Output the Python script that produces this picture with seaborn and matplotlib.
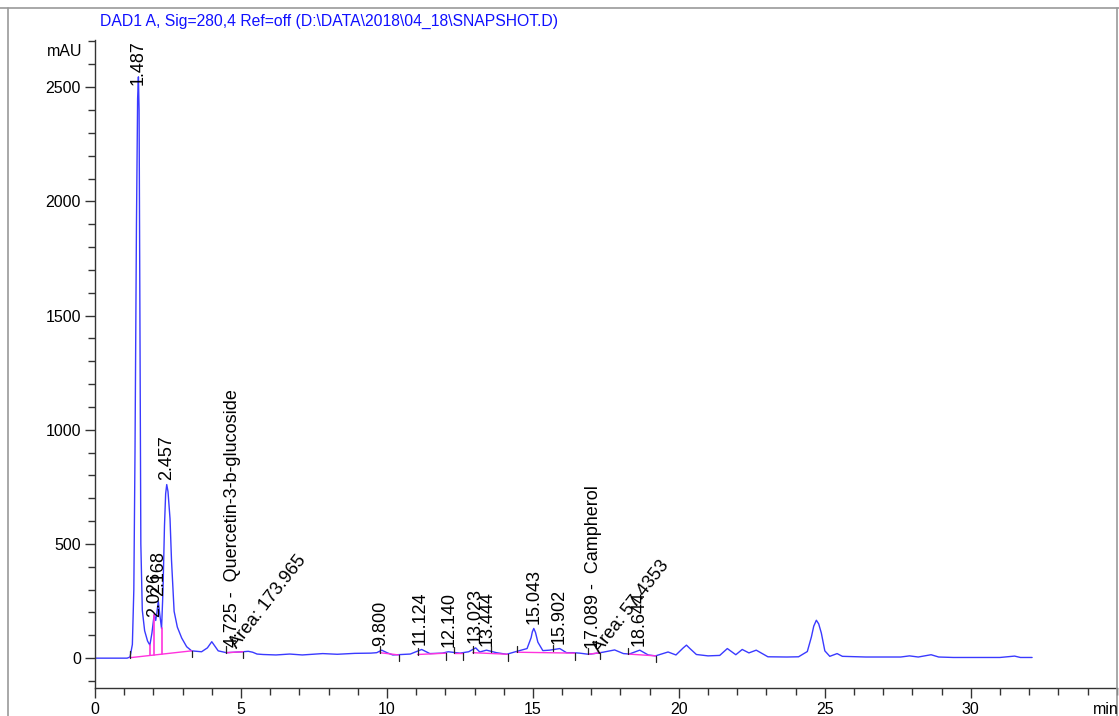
import matplotlib
matplotlib.use("Agg")
import matplotlib.pyplot as plt
from matplotlib.lines import Line2D
import numpy as np
import pandas as pd
import seaborn as sns

# chromatogram trace (min, mAU)
time_min = [0, 1.10, 1.20, 1.28, 1.33, 1.37, 1.42, 1.46, 1.487, 1.51, 1.54, 1.57, 1.62,
            1.70, 1.80, 1.88, 1.95, 2.026, 2.08, 2.12, 2.168, 2.22, 2.28, 2.33, 2.38,
            2.42, 2.457, 2.50, 2.57, 2.62, 2.71, 2.82, 2.97, 3.14, 3.31, 3.65, 3.85,
            4.0, 4.12, 4.22, 4.5, 4.8, 5.07, 5.25, 5.4, 5.55, 5.76, 6.2, 6.67, 7.1,
            7.8, 8.3, 8.9, 9.45, 9.65, 9.82, 10.0, 10.2, 10.8, 11.0, 11.19, 11.47,
            11.9, 12.1, 12.5, 12.8, 13.04, 13.18, 13.41, 13.75, 14.1, 14.4, 14.8,
            14.94, 14.98, 15.03, 15.09, 15.17, 15.34, 15.57, 15.92, 16.15, 16.38,
            16.6, 16.9, 17.1, 17.4, 17.8, 18.1, 18.3, 18.66, 18.95, 19.2, 19.63,
            19.9, 20.15, 20.26, 20.38, 20.6, 21.0, 21.4, 21.66, 21.95, 22.17, 22.4,
            22.65, 23.05, 23.7, 24.1, 24.4, 24.54, 24.62, 24.71, 24.79, 24.88, 25.0,
            25.17, 25.42, 25.6, 26.4, 27.6, 27.9, 28.2, 28.64, 28.9, 29.4, 31.0,
            31.5, 31.7, 32.1]
signal_mau = [0, 0, 5, 60, 300, 900, 1900, 2450, 2545, 2400, 1500, 500, 210,
              120, 75, 57, 110, 190, 165, 200, 250, 190, 130, 300, 580,
              720, 760, 730, 610, 430, 205, 136, 88, 50, 32, 28, 45,
              72, 50, 32, 24, 26, 28, 30, 26, 18, 16, 14, 18, 14,
              20, 17, 21, 22, 24, 35, 24, 14, 18, 28, 38, 20,
              22, 28, 22, 28, 45, 27, 35, 24, 17, 28, 42,
              90, 115, 130, 112, 70, 33, 35, 42, 24, 24,
              22, 17, 20, 26, 36, 20, 18, 35, 14, 10, 27,
              14, 45, 57, 42, 16, 10, 12, 42, 15, 38, 23,
              35, 6, 5, 6, 29, 93, 140, 166, 150, 110, 32,
              8, 20, 8, 5, 5, 10, 5, 15, 5, 3, 3,
              9, 3, 3]

# integration baselines (start min, start mAU, end min, end mAU)
base_t0 = [1.20, 4.50, 9.76, 11.05, 12.30, 12.94, 14.45, 16.90, 18.26]
base_v0 = [2, 24, 24, 16, 22, 24, 26, 17, 18]
base_t1 = [3.31, 5.07, 10.40, 12.04, 12.60, 14.14, 16.44, 17.30, 19.21]
base_v1 = [32, 28, 14, 22, 22, 17, 22, 24, 10]

# drop lines between the fused early peaks
drop_t = [1.88, 2.03, 2.28]
drop_lo = [12, 14, 17]
drop_hi = [57, 190, 130]

# peak start / end tick marks
tick_up_t = [1.20, 4.50, 9.76, 11.05, 12.30, 12.94, 13.55, 14.45, 15.68, 16.90, 18.26]
tick_up_v = [2, 24, 24, 16, 22, 24, 26, 26, 30, 17, 18]
tick_dn_t = [3.31, 5.07, 10.40, 12.04, 12.60, 14.14, 16.44, 17.30, 19.21]
tick_dn_v = [32, 28, 14, 22, 22, 17, 22, 24, 10]

# peak labels
label_t = [1.487, 2.026, 2.168, 2.457, 4.725, 9.800, 11.124, 12.140, 13.023,
           13.444, 15.043, 15.902, 17.089, 18.644]
label_v = [2490, 160, 250, 760, 30, 35, 38, 28, 45, 35, 130, 42, 20, 35]
label_txt = ["1.487", "2.026", "2.168", "2.457", "4.725 -  Quercetin-3-b-glucoside",
             "9.800", "11.124", "12.140", "13.023", "13.444", "15.043", "15.902",
             "17.089 -  Campherol", "18.644"]
area_t = [4.98, 17.42]
area_v = [28, 8]
area_txt = ["Area: 173.965", "Area: 57.4353"]

sns.set_theme(style="white")
plt.rcParams['font.family'] = ['Liberation Sans', 'DejaVu Sans']

fig = plt.figure(figsize=(11.19, 7.16), dpi=100)
ax = fig.add_axes([0.0849, 0.039, 0.9131, 0.905])

trace = pd.DataFrame({"t": time_min, "mAU": signal_mau})
sns.lineplot(data=trace, x="t", y="mAU", ax=ax, color="#3a3aff", linewidth=1.0,
             estimator=None, sort=False)

pink = "#ff33dd"
for t0, v0, t1, v1 in zip(base_t0, base_v0, base_t1, base_v1):
    ax.plot([t0, t1], [v0, v1], color=pink, lw=1.0)
for t, lo, hi in zip(drop_t, drop_lo, drop_hi):
    ax.plot([t, t], [lo, hi], color=pink, lw=1.2)
for t, v in zip(tick_up_t, tick_up_v):
    ax.plot([t, t], [v, v + 28], color="#222222", lw=0.9)
for t, v in zip(tick_dn_t, tick_dn_v):
    ax.plot([t, t], [v - 28, v], color="#222222", lw=0.9)

for t, v, s in zip(label_t, label_v, label_txt):
    ax.text(t, v + 20, s, rotation=90, ha="center", va="bottom", fontsize=13,
            color="black")
for t, v, s in zip(area_t, area_v, area_txt):
    ax.text(t, v, s, rotation=52, ha="left", va="bottom", fontsize=13,
            color="black", rotation_mode="anchor")

ax.set_xlim(0, 35)
ax.set_ylim(-131, 2706)
ax.set_xticks(range(0, 31, 5))
ax.set_xticks(range(0, 36), minor=True)
ax.set_yticks(range(0, 2501, 500))
ax.set_yticks(range(-100, 2701, 100), minor=True)
ax.tick_params(axis="both", which="major", direction="out", length=7, width=1,
               color="#333333", labelsize=11.5, pad=3, labelcolor="black")
ax.tick_params(axis="both", which="minor", direction="out", length=5, width=1,
               color="#333333")
ax.tick_params(bottom=True, left=True, which="both")
ax.set_xlabel("")
ax.set_ylabel("")
for side in ["top", "right"]:
    ax.spines[side].set_visible(False)
for side in ["left", "bottom"]:
    ax.spines[side].set_color("#333333")
    ax.spines[side].set_linewidth(1.0)
ax.grid(False)

fig.text(100 / 1119, 1 - 21 / 716, r"DAD1 A, Sig=280,4 Ref=off (D:\DATA\2018\04_18\SNAPSHOT.D)",
         color="#1010ff", fontsize=11.3, ha="left", va="center")
fig.text(82 / 1119, 1 - 52 / 716, "mAU", fontsize=11.5, ha="right", va="center", color="black")
fig.text(1093 / 1119, 1 - 709 / 716, "min", fontsize=11.5, ha="left", va="center", color="black")

# window frame
frame = "#9a9a9a"
fig.add_artist(Line2D([0, 1], [1 - 8 / 716, 1 - 8 / 716], color=frame, lw=1.2))
fig.add_artist(Line2D([8 / 1119, 8 / 1119], [0, 1 - 8 / 716], color=frame, lw=1.2))
fig.add_artist(Line2D([1117 / 1119, 1117 / 1119], [0, 1 - 8 / 716], color=frame, lw=1.2))

fig.savefig("out.png", dpi=100)
